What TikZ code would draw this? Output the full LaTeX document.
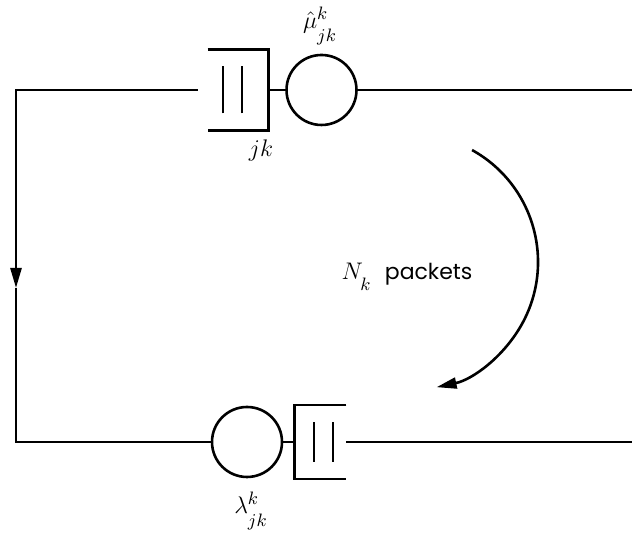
\documentclass[tikz,border=0pt]{standalone}
\usepackage{fontspec}
\setmainfont{Poppins}
\usetikzlibrary{positioning,arrows.meta,calc}

\newcommand{\lowsub}[1]{\raisebox{-3.5pt}{$\scriptstyle #1$}}

\begin{document}
\begin{tikzpicture}[
  x=0.5pt, y=0.5pt,
  >={Triangle[length=10pt,width=5.5pt]},
  font=\fontsize{11}{13}\selectfont,
  server/.style={circle, draw=black, line width=1.3pt, minimum size=35pt, inner sep=0pt},
  buffer/.style={rectangle, inner sep=0pt},
  wire/.style={black, line width=1.3pt},
  flow/.style={->, black, line width=1.3pt},
  lbl/.style={inner sep=0pt, font=\fontsize{12.5}{15}\selectfont}
]
\useasboundingbox (0,0) rectangle (632,533);

% ---- Top row: queue j_k and its server ------------------------------------
\node[buffer, minimum width=30pt, minimum height=40pt] (qtop) at (238,443) {};
\node[server] (stop) at (321.5,443) {};

\draw[wire] (qtop.north west) -- (qtop.north east) -- (qtop.south east) -- (qtop.south west);
\draw[wire] ([shift={(-15,-23.5)}]qtop.center) -- ++(0,47);
\draw[wire] ([shift={(4,-23.5)}]qtop.center) -- ++(0,47);

% ---- Bottom row: source and its queue ---------------------------------------
\node[server] (sbot) at (247,91) {};
\node[buffer, minimum width=25.5pt, minimum height=36.5pt] (qbot) at (320.5,91) {};

\draw[wire] (qbot.north east) -- (qbot.north west) -- (qbot.south west) -- (qbot.south east);
\draw[wire] ([shift={(-6.5,-20)}]qbot.center) -- ++(0,40);
\draw[wire] ([shift={(12.5,-20)}]qbot.center) -- ++(0,40);

% ---- Loop corners and cut ends ----------------------------------------------
\coordinate (tl) at (16,443);
\coordinate (mid) at (16,245);
\coordinate (bl) at (16,91);
\coordinate (tr) at (632,443);
\coordinate (br) at (632,91);

% ---- Connectors ---------------------------------------------------------------
\draw[wire] (tr) -- (stop);
\draw[wire] (stop) -- (qtop.east);
\draw[flow] ([xshift=-5pt]qtop.west) -- (tl) -- (mid);
\draw[wire] (mid) -- (bl) -- (sbot);
\draw[wire] (sbot) -- (qbot.west);
\draw[wire] (qbot.east) -- (br);

% ---- Circulation of the packets ---------------------------------------------
\draw[flow] (410,271) ++(61:128) arc[start angle=61, end angle=-78, radius=128];

% ---- Labels -------------------------------------------------------------------
\node[lbl] (mulbl) at (320,507) {$\hat{\mu}^{k}_{\lowsub{jk}}$};
\node[lbl] (jklbl) at (261,382) {$jk$};
\node[lbl] (lamlbl) at (251,22) {$\lambda^{k}_{\lowsub{jk}}$};
\node[lbl] (pktlbl) at (407,256) {$N_{\lowsub{k}}$\ \ \fontsize{11}{13}\selectfont packets};

\end{tikzpicture}
\end{document}
